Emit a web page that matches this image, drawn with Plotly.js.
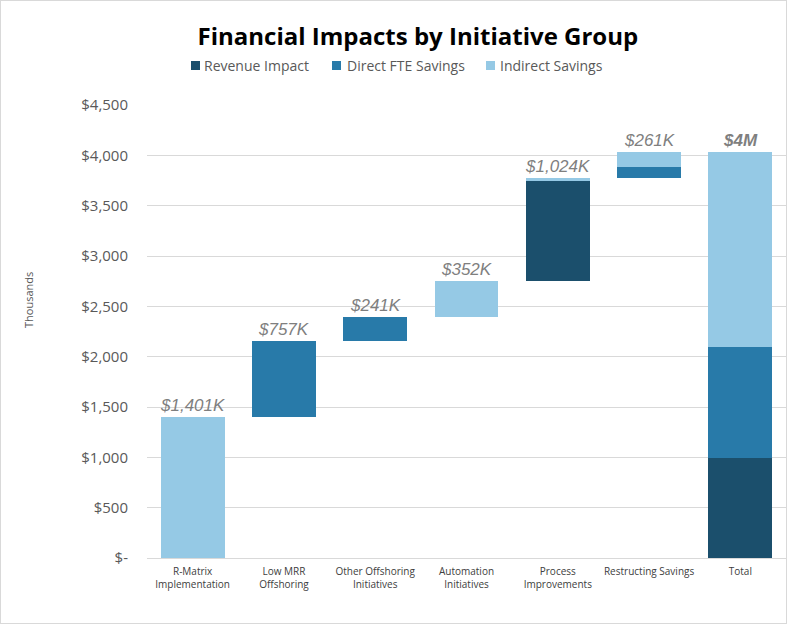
<!DOCTYPE html>
<html>
<head>
<meta charset="utf-8">
<script src="https://cdn.plot.ly/plotly-3.0.1.min.js"></script>
<style>
  html, body { margin: 0; padding: 0; background: #ffffff; }
  #wrap { width: 787px; height: 624px; box-sizing: border-box; border: 1px solid #d9d9d9; }
  #chart { width: 785px; height: 622px; }
</style>
</head>
<body>
<div id="wrap"><div id="chart"></div></div>
<script>
// ---- Data (thousands of $) ----
const categories = ["R-Matrix<br>Implementation", "Low MRR<br>Offshoring", "Other Offshoring<br>Initiatives",
                    "Automation<br>Initiatives", "Process<br>Improvements", "Restructing Savings", "Total"];
const seriesNames   = ["Revenue Impact", "Direct FTE Savings", "Indirect Savings"];
const revenueImpact = [0, 0, 0, 0, 994, 0, 994];
const directFTE     = [0, 757, 241, 0, 0, 109, 1107];
const indirectSav   = [1401, 0, 0, 352, 30, 152, 1935];
const valueLabels   = ["$1,401K", "$757K", "$241K", "$352K", "$1,024K", "$261K", "$4M"];
const isTotal       = [false, false, false, false, false, false, true];
const yTickVals     = [0, 500, 1000, 1500, 2000, 2500, 3000, 3500, 4000, 4500];
const yTickText     = ["$-", "$500", "$1,000", "$1,500", "$2,000", "$2,500", "$3,000", "$3,500", "$4,000", "$4,500"];

// waterfall offsets derived from the data
const stepTotals = categories.map((c, i) => revenueImpact[i] + directFTE[i] + indirectSav[i]);
const offsets = [];
let run = 0;
for (let i = 0; i < categories.length; i++) {
  if (isTotal[i]) { offsets.push(0); }
  else { offsets.push(run); run += stepTotals[i]; }
}
const tops = offsets.map((o, i) => o + stepTotals[i]);

const colors = ["#1b4f6c", "#287aa9", "#95c9e5"];

const traces = [
  { type: "bar", x: categories, y: offsets, marker: { color: "rgba(0,0,0,0)" },
    showlegend: false, hoverinfo: "skip" },
  { type: "bar", name: seriesNames[0], x: categories, y: revenueImpact, marker: { color: colors[0] }, showlegend: false },
  { type: "bar", name: seriesNames[1], x: categories, y: directFTE, marker: { color: colors[1] }, showlegend: false },
  { type: "bar", name: seriesNames[2], x: categories, y: indirectSav, marker: { color: colors[2] }, showlegend: false }
];

// plot area geometry (div pixels) for placing the header legend
const M = { l: 146, r: 0, t: 104, b: 65 }, W = 785, H = 622;
const pw = W - M.l - M.r, ph = H - M.t - M.b;
const px = X => (X - 1 - M.l) / pw;
const py = Y => (H - M.b - (Y - 1)) / ph;

const annotations = categories.map((c, i) => ({
  x: c, y: tops[i], xref: "x", yref: "y", yanchor: "bottom", showarrow: false,
  text: isTotal[i] ? "<b><i>" + valueLabels[i] + "</i></b>" : "<i>" + valueLabels[i] + "</i>",
  font: { family: "Liberation Sans, Arial, sans-serif", size: 17, color: "#7f7f7f" }
}));
annotations.push({
  text: "Thousands", xref: "paper", yref: "paper", x: px(28), y: py(300),
  xanchor: "center", yanchor: "middle",
  textangle: -90, showarrow: false,
  font: { family: "Open Sans, sans-serif", size: 11, color: "#595959" }
});

// legend row
const legSquareX = [191, 332, 486];
const legTextX = [202, 345, 498];
const shapes = [];
seriesNames.forEach((n, i) => {
  shapes.push({ type: "rect", xref: "paper", yref: "paper",
    x0: px(legSquareX[i]), x1: px(legSquareX[i] + 9), y0: py(70), y1: py(61),
    fillcolor: colors[i], line: { width: 0 } });
  annotations.push({ text: n, xref: "paper", yref: "paper", x: px(legTextX[i]), y: py(65),
    xanchor: "left", yanchor: "middle", showarrow: false,
    font: { family: "Open Sans, sans-serif", size: 14, color: "#595959" } });
});

const layout = {
  width: W, height: H,
  margin: M,
  paper_bgcolor: "#ffffff", plot_bgcolor: "#ffffff",
  barmode: "stack", bargap: 0.30,
  title: {
    text: "<b>Financial Impacts by Initiative Group</b>",
    x: 0.531, xref: "container", xanchor: "center",
    y: 0.942, yref: "container", yanchor: "middle",
    font: { family: "Open Sans, sans-serif", size: 24, color: "#000000" }
  },
  showlegend: false,
  xaxis: {
    type: "category", showgrid: false, showline: true, linecolor: "#d9d9d9", linewidth: 1,
    ticks: "", fixedrange: true, ticklabelstandoff: 4,
    tickfont: { family: "Open Sans, sans-serif", size: 10, color: "#404040" }
  },
  yaxis: {
    range: [0, 4500], tickvals: yTickVals, ticktext: yTickText,
    showgrid: true, gridcolor: "#d9d9d9", gridwidth: 1, zeroline: false,
    ticks: "", ticklabelstandoff: 18,
    tickfont: { family: "Open Sans, sans-serif", size: 15, color: "#595959" }
  },
  annotations: annotations,
  shapes: shapes
};

Plotly.newPlot("chart", traces, layout, { displayModeBar: false, staticPlot: true });
</script>
</body>
</html>
